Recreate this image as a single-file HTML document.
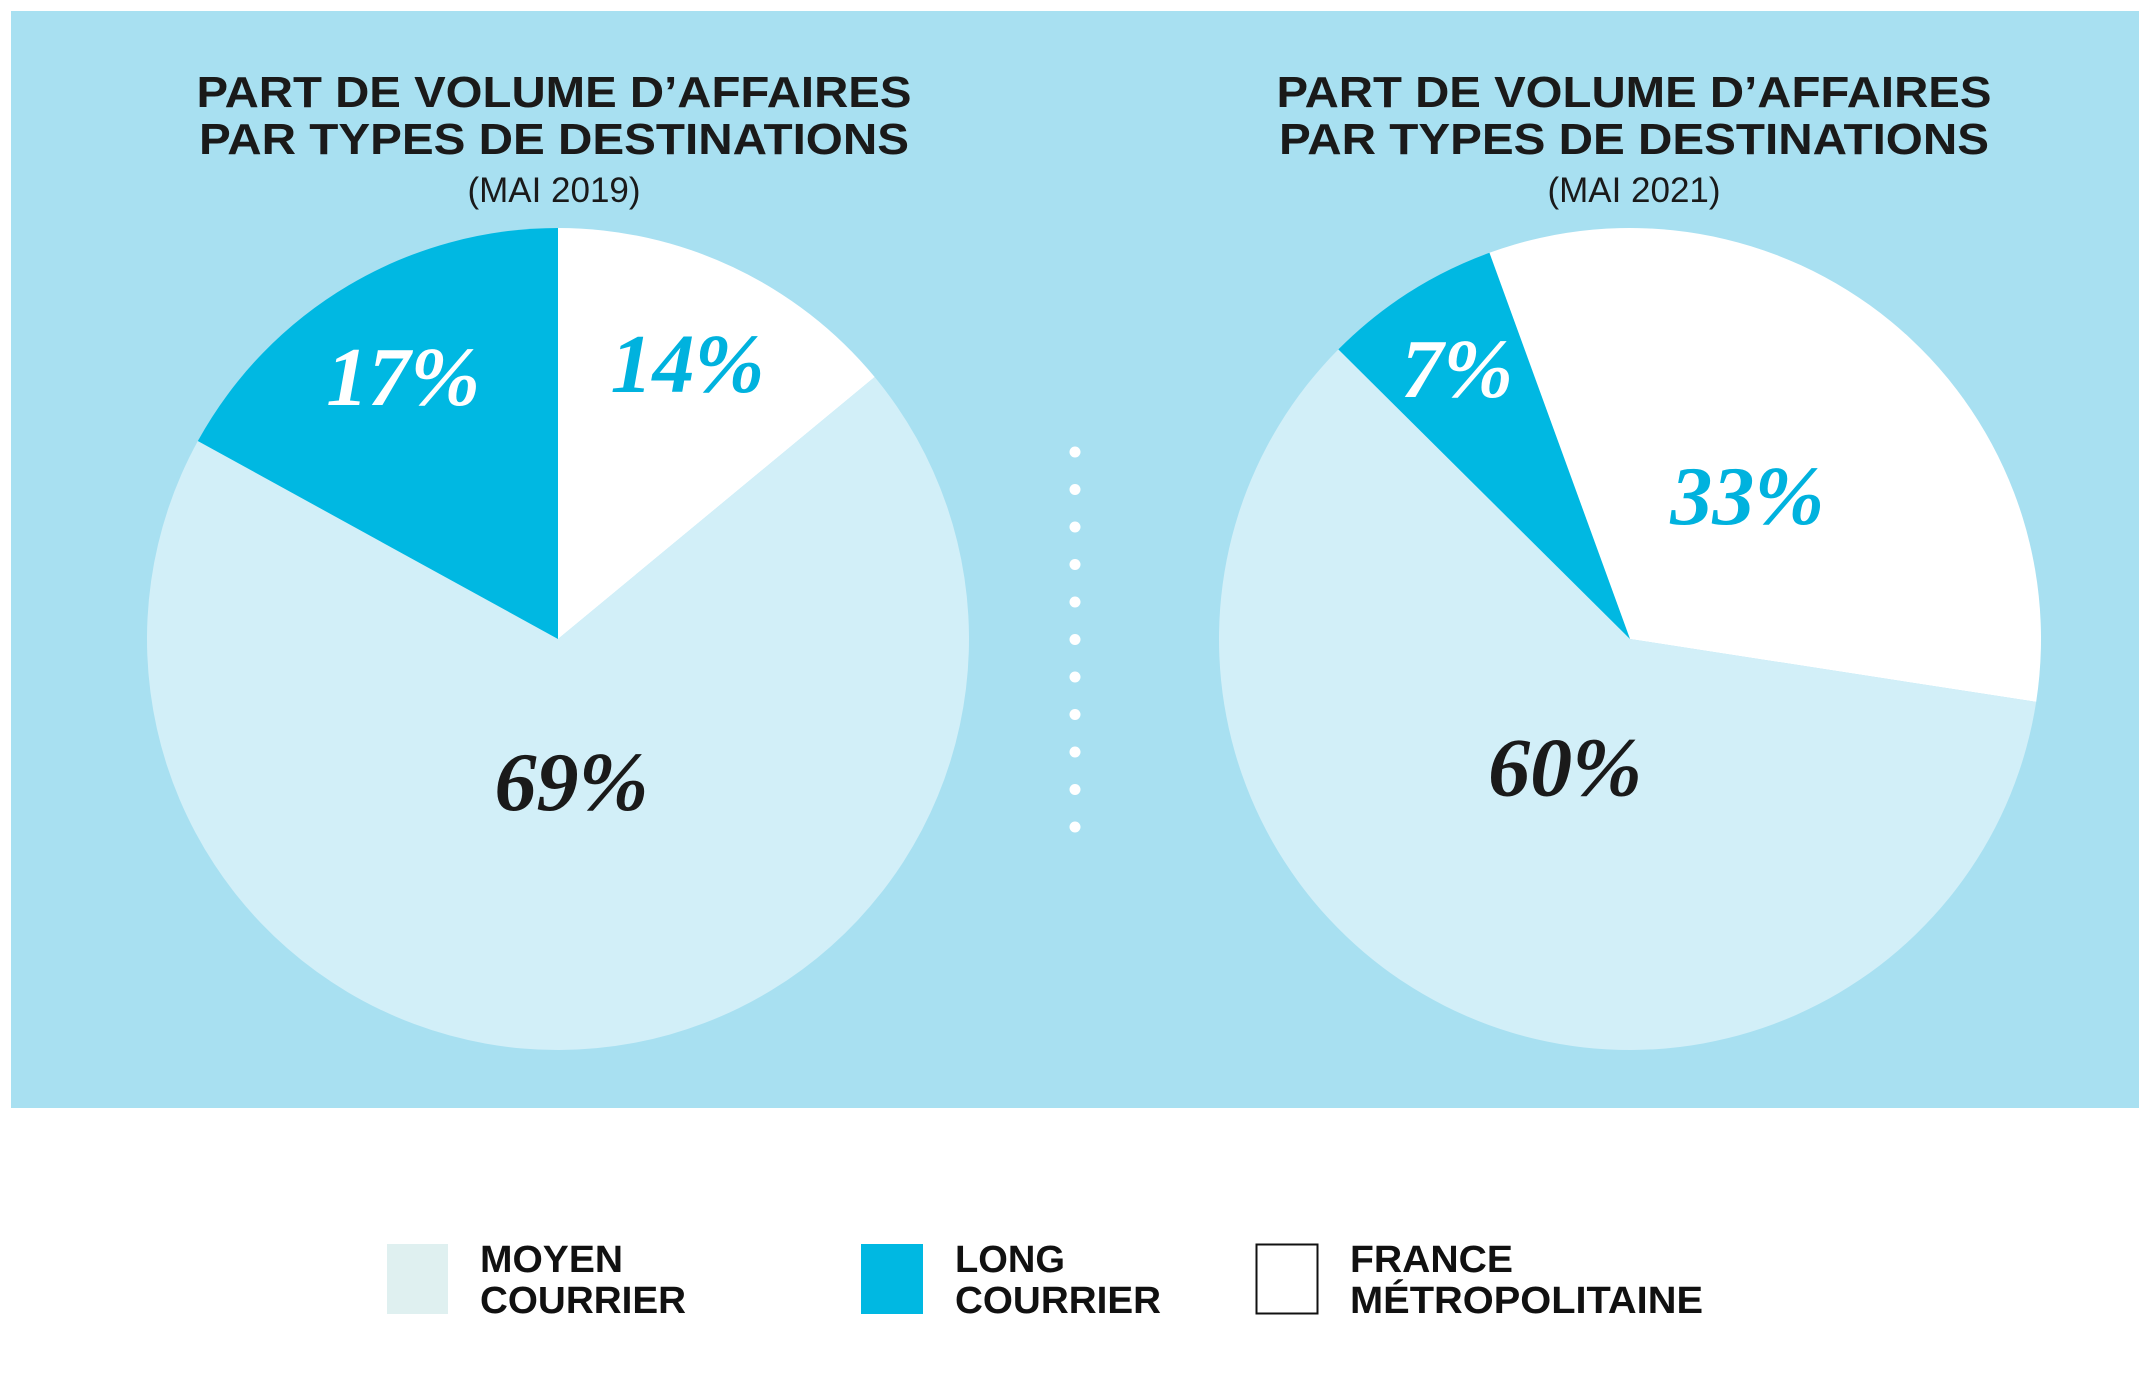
<!DOCTYPE html>
<html><head><meta charset="utf-8"><style>
html,body{margin:0;padding:0;background:#fff}
svg{display:block}
.t{font-family:"Liberation Sans",sans-serif;font-weight:bold;fill:#1a1a1a}
.s{font-family:"Liberation Sans",sans-serif;fill:#1a1a1a}
.p{font-family:"Liberation Serif",serif;font-style:italic;font-weight:bold}
.l{font-family:"Liberation Sans",sans-serif;font-weight:bold;fill:#111}
</style></head><body>
<svg id="chart" width="2150" height="1397" viewBox="0 0 2150 1397">
<rect x="11" y="11" width="2128" height="1097" fill="#a8e0f1"/>
<g>
<text class="t" x="554" y="107" font-size="44" text-anchor="middle" textLength="715" lengthAdjust="spacingAndGlyphs">PART DE VOLUME D’AFFAIRES</text>
<text class="t" x="554" y="154" font-size="44" text-anchor="middle" textLength="710" lengthAdjust="spacingAndGlyphs">PAR TYPES DE DESTINATIONS</text>
<text class="s" x="554" y="202" font-size="35" text-anchor="middle">(MAI 2019)</text>
</g>
<g>
<text class="t" x="1634" y="107" font-size="44" text-anchor="middle" textLength="715" lengthAdjust="spacingAndGlyphs">PART DE VOLUME D’AFFAIRES</text>
<text class="t" x="1634" y="154" font-size="44" text-anchor="middle" textLength="710" lengthAdjust="spacingAndGlyphs">PAR TYPES DE DESTINATIONS</text>
<text class="s" x="1634" y="202" font-size="35" text-anchor="middle">(MAI 2021)</text>
</g>
<g id="pies"></g>
<g id="dots"></g>
<g>
<g>
<rect x="387" y="1244" width="61" height="70" fill="#dff0f0"/>
<text class="l" x="480" y="1272" font-size="38" textLength="143" lengthAdjust="spacingAndGlyphs">MOYEN</text>
<text class="l" x="480" y="1313" font-size="38" textLength="206" lengthAdjust="spacingAndGlyphs">COURRIER</text>
</g>
<g>
<rect x="861" y="1244" width="62" height="70" fill="#00b8e2"/>
<text class="l" x="955" y="1272" font-size="38" textLength="110" lengthAdjust="spacingAndGlyphs">LONG</text>
<text class="l" x="955" y="1313" font-size="38" textLength="206" lengthAdjust="spacingAndGlyphs">COURRIER</text>
</g>
<g>
<rect x="1256.5" y="1244.5" width="61" height="69" fill="#fff" stroke="#111" stroke-width="2"/>
<text class="l" x="1350" y="1272" font-size="38" textLength="163" lengthAdjust="spacingAndGlyphs">FRANCE</text>
<text class="l" x="1350" y="1313" font-size="38" textLength="353" lengthAdjust="spacingAndGlyphs">MÉTROPOLITAINE</text>
</g>
</g>
</svg>
<script>
const categories = ["France métropolitaine", "Moyen courrier", "Long courrier"];
const values2019 = [14, 69, 17];
const values2021 = [33, 60, 7];
const labels2019 = ["14%", "69%", "17%"];
const labels2021 = ["33%", "60%", "7%"];
const NS = "http://www.w3.org/2000/svg";
const colors = ["#ffffff", "#d2eff8", "#00b8e2"];
const labelColors = ["#00b2de", "#1a1a1a", "#ffffff"];
function angleScale(v, total){ return v / total * 2 * Math.PI; }
function drawPie(id, cx, cy, r, startDeg, vals, labs, labelPos){
  const g = document.createElementNS(NS, "g");
  
  
  document.getElementById('pies').appendChild(g);
  const total = vals.reduce((a,b)=>a+b,0);
  let a = startDeg * Math.PI / 180;
  vals.forEach((v, i) => {
    const da = angleScale(v, total);
    const a2 = a + da;
    const x1 = cx + r*Math.sin(a), y1 = cy - r*Math.cos(a);
    const x2 = cx + r*Math.sin(a2), y2 = cy - r*Math.cos(a2);
    const p = document.createElementNS(NS, "path");
    p.setAttribute('d', `M${cx},${cy} L${x1},${y1} A${r},${r} 0 ${da>Math.PI?1:0} 1 ${x2},${y2} Z`);
    p.setAttribute('fill', colors[i]);
    
    
    g.appendChild(p);
    const mid = a + da/2;
    const lr = r * labelPos[i];
    const t = document.createElementNS(NS, "text");
    t.setAttribute('x', cx + lr*Math.sin(mid));
    t.setAttribute('y', cy - lr*Math.cos(mid) + 28);
    t.setAttribute('text-anchor', 'middle');
    t.setAttribute('class', 'p');
    t.setAttribute('font-size', '84');
    t.setAttribute('fill', labelColors[i]);
    t.textContent = labs[i];
    
    
    g.appendChild(t);
    a = a2;
  });
}
drawPie('pie-2019', 558, 639, 411, 0, values2019, labels2019, [0.74, 0.35, 0.74]);
drawPie('pie-2021', 1630, 639, 411, -20, values2021, labels2021, [0.45, 0.35, 0.78]);
const dg = document.getElementById('dots');
for (let i = 0; i < 11; i++) {
  const c = document.createElementNS(NS, "circle");
  c.setAttribute('cx', 1075);
  c.setAttribute('cy', 452 + i*37.5);
  c.setAttribute('r', 5.5);
  c.setAttribute('fill', '#fff');
  
  
  dg.appendChild(c);
}
</script>
</body></html>
